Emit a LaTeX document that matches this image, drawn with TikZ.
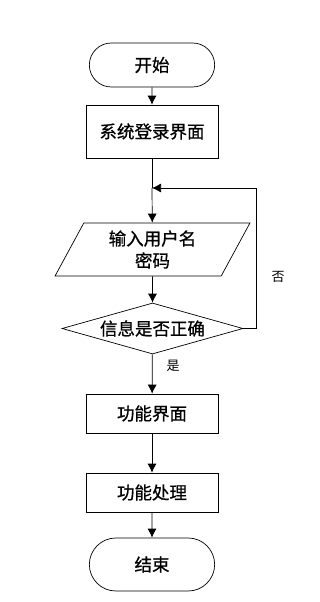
\documentclass[tikz,border=0pt]{standalone}
\usepackage{fontspec}
\newfontfamily\cjk{Noto Sans CJK SC}[FakeBold=0.8]
\newfontfamily\cjklight{Noto Sans CJK SC}
\usetikzlibrary{arrows.meta,shapes.geometric,shapes.misc}
\tikzset{
  terminal/.style={draw, rounded rectangle, minimum width=132pt, minimum height=44pt, font=\cjk\fontsize{17.5}{20}\selectfont},
  procbox/.style={draw, rectangle, minimum width=132pt, font=\cjk\fontsize{17.5}{20}\selectfont},
  iobox/.style={draw, trapezium, trapezium left angle=65, trapezium right angle=115, trapezium stretches=true, minimum width=195pt, minimum height=53pt, inner sep=1pt, align=center, font=\cjk\fontsize{17.5}{22}\selectfont},
  decision/.style={draw, diamond, aspect=3.55, minimum width=181pt, minimum height=51pt, inner sep=0pt, font=\cjk\fontsize{17.5}{20}\selectfont},
  flow/.style={-{Latex[length=9pt,width=9pt]}},
  note/.style={font=\cjklight\fontsize{13}{15}\selectfont}
}
\begin{document}
\begin{tikzpicture}[x=1pt,y=1pt,yscale=-1,line width=0.7pt]
  \useasboundingbox (0,0) rectangle (320,602);
  % nodes
  \node (start) at (152,65) [terminal] {开始};
  \node (login) at (152,131.5) [procbox, minimum height=53pt] {系统登录界面};
  \node (input) at (152.5,249.5) [iobox] {输入用户名\\密码};
  \node (check) at (152.5,328.5) [decision] {信息是否正确};
  \node (func) at (152,413.5) [procbox, minimum height=39pt] {功能界面};
  \node (proc) at (152,492.5) [procbox, minimum height=39pt] {功能处理};
  \node (stop) at (152,564.5) [terminal, minimum height=53pt] {结束};
  \coordinate (loopin) at (152,188);
  \coordinate (loopcorner) at (256,188);
  % connectors
  \draw [flow] (start) -- (login);
  \draw (login) -- (loopin);
  \draw [flow] (loopin) -- (input);
  \draw [flow] (input) -- (check);
  \draw [flow] (check.east) -| (loopcorner) -- (loopin);
  \draw [flow] (check) -- (func);
  \draw [flow] (func) -- (proc);
  \draw [flow] (proc) -- (stop);
  % labels
  \node (no) at (278,277) [note] {否};
  \node (yes) at (173,366) [note] {是};
\end{tikzpicture}
\end{document}
